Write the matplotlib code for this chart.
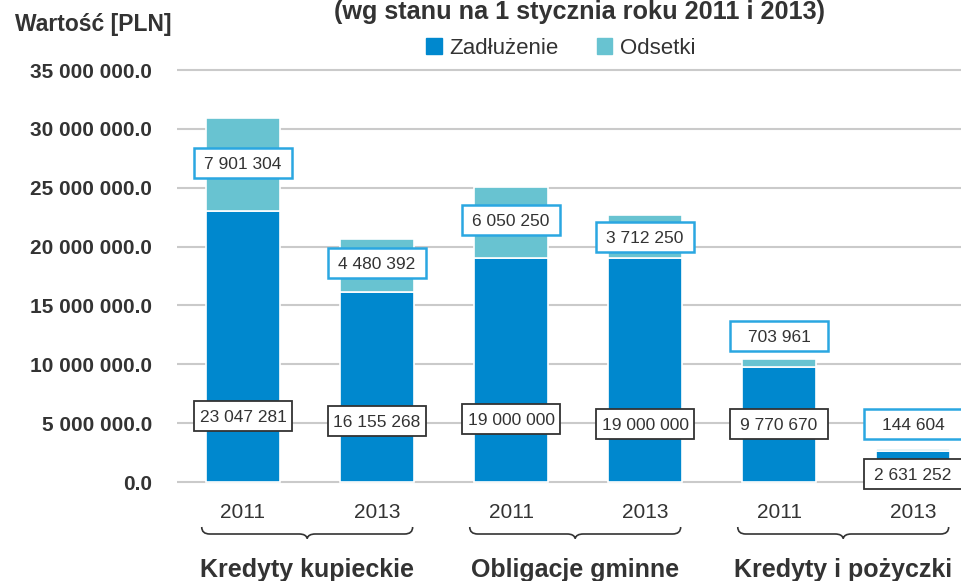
import matplotlib

matplotlib.use("Agg")
import matplotlib.pyplot as plt  # noqa: E402
import matplotlib.transforms as mtransforms  # noqa: E402
from matplotlib.patches import Rectangle, Patch, PathPatch  # noqa: E402
from matplotlib.path import Path  # noqa: E402

plt.rcParams["font.family"] = ["Liberation Sans", "DejaVu Sans"]

# data
groups = ["Kredyty kupieckie", "Obligacje gminne", "Kredyty i pożyczki"]
years = ["2011", "2013", "2011", "2013", "2011", "2013"]
zadluzenie = [23047281, 16155268, 19000000, 19000000, 9770670, 2631252]
odsetki = [7901304, 4480392, 6050250, 3712250, 703961, 144604]
yticks = [0, 5e6, 10e6, 15e6, 20e6, 25e6, 30e6, 35e6]

# where the value boxes sit (layout, not data)
box_y_zad = [5.6e6, 5.2e6, 5.35e6, 4.9e6, 4.9e6, 0.68e6]
box_y_ods = [27.1e6, 18.6e6, 22.3e6, 20.8e6, 12.4e6, 4.9e6]

BLUE = "#0088CE"
TEAL = "#68C3D1"
BOX_BLUE = "#2AA7E1"
DARK = "#333333"
GRID = "#CACACA"

W, H = 961, 581
fig = plt.figure(figsize=(W / 100, H / 100), dpi=100)
ax = fig.add_axes([177 / W, 0.1602, 1 - 177 / W, 0.7294])

x = list(range(len(years)))
ax.bar(x, zadluzenie, width=0.552, color=BLUE, edgecolor="white", linewidth=1.2, zorder=3)
ax.bar(x, odsetki, width=0.552, bottom=zadluzenie, color=TEAL, edgecolor="white",
       linewidth=1.2, zorder=3)

ax.set_xlim(-0.4925, 5.358)
ax.set_ylim(-0.5e6, 35.5e6)
ax.set_yticks(yticks)
ax.set_yticklabels([f"{v:,.1f}".replace(",", " ") for v in yticks],
                   fontsize=15, fontweight="bold", color=DARK)
ax.tick_params(axis="y", length=0, pad=18)
ax.set_xticks([])
ax.grid(axis="y", color=GRID, lw=1.5, zorder=0)
for s in ax.spines.values():
    s.set_visible(False)


def fmt(v):
    return f"{v:,}".replace(",", " ")


def value_box(xc, yc, val, edge, lw):
    bw, bh = 0.73, 2.55e6
    ax.add_patch(Rectangle((xc - bw / 2, yc - bh / 2), bw, bh, facecolor="white",
                           edgecolor=edge, lw=lw, zorder=5, clip_on=False))
    ax.text(xc, yc, fmt(val), ha="center", va="center_baseline", fontsize=12.5,
            color=DARK, zorder=6, clip_on=False)


for i in x:
    value_box(i, box_y_zad[i], zadluzenie[i], DARK, 1.3)
    value_box(i, box_y_ods[i], odsetki[i], BOX_BLUE, 1.8)

# labels under the axis (x in data, y in figure fraction)
tr = mtransforms.blended_transform_factory(ax.transData, fig.transFigure)
for i, yr in enumerate(years):
    ax.text(i, 1 - 518 / H, yr, transform=tr, ha="center", va="baseline",
            fontsize=15, color=DARK, clip_on=False)


def brace(x0, x1):
    px, py = 1 / 134, 1 / H  # one pixel in x-data / figure units
    xm = (x0 + x1) / 2
    yt, yl, yp = 1 - 527 * py, 1 - 534 * py, 1 - 538.5 * py
    verts = [(x0, yt), (x0, yl), (x0 + 8 * px, yl),
             (xm - 8 * px, yl), (xm - 1 * px, yl), (xm, yp),
             (xm + 1 * px, yl), (xm + 8 * px, yl),
             (x1 - 8 * px, yl), (x1, yl), (x1, yt)]
    codes = [Path.MOVETO, Path.CURVE3, Path.CURVE3,
             Path.LINETO, Path.CURVE3, Path.CURVE3,
             Path.CURVE3, Path.CURVE3,
             Path.LINETO, Path.CURVE3, Path.CURVE3]
    ax.add_patch(PathPatch(Path(verts, codes), transform=tr, fill=False,
                           edgecolor=DARK, lw=1.2, clip_on=False))
    return xm


for g, name in enumerate(groups):
    xm = brace(2 * g - 0.308, 2 * g + 1.266)
    ax.text(xm, 1 - 577 / H, name, transform=tr, ha="center", va="baseline",
            fontsize=18, fontweight="bold", color=DARK, clip_on=False)

fig.text(579 / W, 1 - 18.5 / H, "(wg stanu na 1 stycznia roku 2011 i 2013)",
         ha="center", va="baseline", fontsize=18.2, fontweight="bold", color=DARK)
fig.text(15 / W, 1 - 31.5 / H, "Wartość [PLN]", ha="left", va="baseline",
         fontsize=16.5, fontweight="bold", color=DARK)

fig.legend(handles=[Patch(color=BLUE, label="Zadłużenie"), Patch(color=TEAL, label="Odsetki")],
           loc="center", bbox_to_anchor=(561 / W, 1 - 48.5 / H), ncol=2, frameon=False,
           fontsize=16, handlelength=0.7, handleheight=0.7, handletextpad=0.35,
           columnspacing=1.7, labelcolor=DARK)

fig.savefig("out.png", dpi=100)
